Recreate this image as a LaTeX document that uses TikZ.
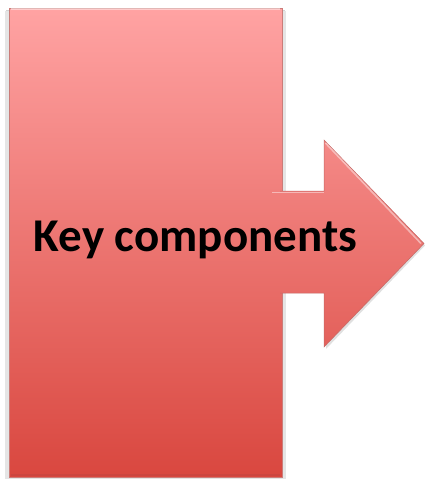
\documentclass[tikz,border=0pt]{standalone}
\usepackage{fontspec}
\setmainfont{Carlito}
\usetikzlibrary{positioning,calc}
\definecolor{blocktop}{HTML}{FFA3A3}
\definecolor{blockmid}{HTML}{F07C7A}
\definecolor{blockbot}{HTML}{D9473F}
\definecolor{edgec}{HTML}{B54440}
\tikzset{
  redshade/.style={top color=blocktop, middle color=blockmid, bottom color=blockbot},
  blockbox/.style={inner sep=0pt, redshade, draw=edgec!70, line width=0.5pt},
  rim/.style={draw=edgec!80, line width=0.5pt, line join=miter},
  shine/.style={draw=white, opacity=0.45, line width=1.6pt},
  caption/.style={font=\bfseries\fontsize{47}{52}\selectfont, text=black, inner sep=0pt},
}
\begin{document}
\begin{tikzpicture}[x=1pt,y=-1pt]
  \useasboundingbox (0,0) rectangle (425,479);

  % soft shadow
  \fill[black!18] (6,10) rectangle (285,480);
  \fill[black!10] (5,11) rectangle (286,481);

  % main block
  \node[blockbox, minimum width=273pt, minimum height=469pt] (block) at (145.5,242.5) {};
  \draw[shine] ([xshift=2pt,yshift=-1.5pt]block.north west) -- ([xshift=-2pt,yshift=-1.5pt]block.north east);
  \draw[edgec, opacity=0.35, line width=2pt] ([xshift=2pt,yshift=2pt]block.south west) -- ([xshift=-2pt,yshift=2pt]block.south east);

  % arrow on the right side
  \coordinate (sa) at (268,191);
  \coordinate (sb) at (324,191);
  \coordinate (ha) at (324,140);
  \coordinate (tip) at (424,243.5);
  \coordinate (hb) at (324,347);
  \coordinate (sc) at (324,293);
  \coordinate (sd) at (268,293);
  \fill[black!12] ($(ha)+(2,2)$) -- ($(tip)+(1,2)$) -- ($(hb)+(2,2)$) -- cycle;
  \begin{scope}
    \clip (sa) -- (sb) -- (ha) -- (tip) -- (hb) -- (sc) -- (sd) -- cycle;
    \shade[redshade] (block.north west -| sa) rectangle (block.south west -| tip);
  \end{scope}
  \draw[rim] ($(sa)+(12,0)$) -- (sb) -- (ha) -- (tip) -- (hb) -- (sc) -- ($(sd)+(12,0)$);
  \draw[shine] ($(sa)+(4,1.5)$) -- ($(sb)+(0,1.5)$);
  \draw[shine] ($(ha)+(1.5,3)$) -- ($(tip)+(-3,0)$);

  % label
  \node[caption, anchor=base] (label) at (195.5,251) {Key components};
\end{tikzpicture}
\end{document}
